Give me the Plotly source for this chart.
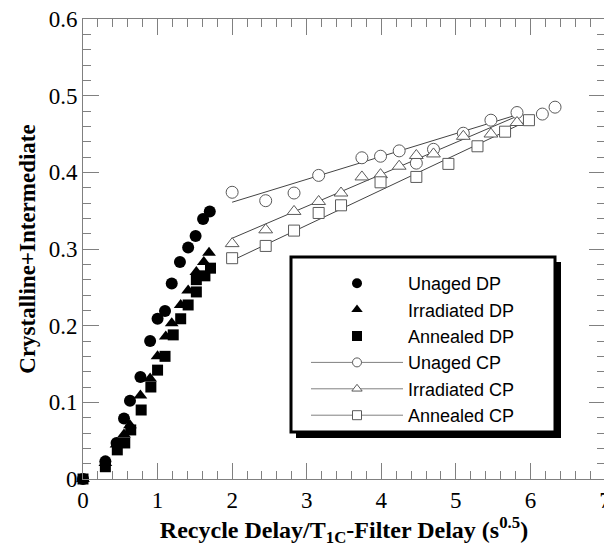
import plotly.graph_objects as go

# ---- data ----
unaged_dp_x = [0.0, 0.30, 0.45, 0.55, 0.63, 0.77, 0.90, 1.00, 1.10, 1.19, 1.30, 1.41, 1.51, 1.61, 1.70]
unaged_dp_y = [0.0, 0.023, 0.047, 0.079, 0.102, 0.133, 0.180, 0.209, 0.219, 0.255, 0.283, 0.302, 0.317, 0.339, 0.349]

irr_dp_x = [0.0, 0.30, 0.45, 0.55, 0.63, 0.77, 0.90, 1.00, 1.11, 1.19, 1.31, 1.41, 1.52, 1.62, 1.69]
irr_dp_y = [0.0, 0.021, 0.045, 0.058, 0.070, 0.109, 0.131, 0.160, 0.186, 0.203, 0.227, 0.246, 0.270, 0.283, 0.295]

ann_dp_x = [0.0, 0.30, 0.46, 0.56, 0.64, 0.78, 0.91, 1.00, 1.10, 1.21, 1.31, 1.41, 1.52, 1.52, 1.635, 1.71]
ann_dp_y = [0.0, 0.016, 0.038, 0.047, 0.064, 0.090, 0.120, 0.142, 0.160, 0.188, 0.209, 0.227, 0.244, 0.260, 0.265, 0.275]

unaged_cp_x = [2.00, 2.45, 2.83, 3.16, 3.74, 3.99, 4.24, 4.47, 4.70, 5.10, 5.47, 5.82, 6.16, 6.33]
unaged_cp_y = [0.374, 0.363, 0.373, 0.396, 0.419, 0.421, 0.428, 0.412, 0.430, 0.451, 0.468, 0.478, 0.476, 0.485]

irr_cp_x = [2.00, 2.45, 2.83, 3.16, 3.46, 3.74, 3.99, 4.24, 4.47, 4.70, 5.10, 5.47, 5.82]
irr_cp_y = [0.307, 0.325, 0.349, 0.362, 0.373, 0.394, 0.397, 0.408, 0.422, 0.424, 0.447, 0.450, 0.465]

ann_cp_x = [2.00, 2.45, 2.83, 3.16, 3.46, 3.99, 4.47, 4.90, 5.29, 5.66, 5.98]
ann_cp_y = [0.288, 0.304, 0.324, 0.347, 0.357, 0.387, 0.394, 0.411, 0.434, 0.453, 0.468]

# linear fit lines (end points)
unaged_fit_x = [2.00, 5.82]
unaged_fit_y = [0.361, 0.475]
irr_fit_x = [2.00, 5.84]
irr_fit_y = [0.314, 0.474]
ann_fit_x = [2.00, 5.98]
ann_fit_y = [0.285, 0.468]

x_ticks = [0, 1, 2, 3, 4, 5, 6, 7]
y_ticks = [0, 0.1, 0.2, 0.3, 0.4, 0.5, 0.6]

LINE = "#444444"
EDGE = "#5a5a5a"
AXC = "#808080"

fig = go.Figure()

# fit lines
for fx, fy in [(unaged_fit_x, unaged_fit_y), (irr_fit_x, irr_fit_y), (ann_fit_x, ann_fit_y)]:
    fig.add_trace(go.Scatter(x=fx, y=fy, mode="lines", line=dict(color=LINE, width=1),
                             showlegend=False, hoverinfo="skip"))

# CP open markers
for cx, cy, sym, sz in [(unaged_cp_x, unaged_cp_y, "circle", 12),
                        (irr_cp_x, irr_cp_y, "triangle-up", 12),
                        (ann_cp_x, ann_cp_y, "square", 11)]:
    fig.add_trace(go.Scatter(x=cx, y=cy, mode="markers",
                             marker=dict(symbol=sym, size=sz, color="white",
                                         line=dict(color=EDGE, width=1)),
                             showlegend=False))

# DP filled markers
for dx, dy, sym, sz in [(unaged_dp_x, unaged_dp_y, "circle", 12),
                        (irr_dp_x, irr_dp_y, "triangle-up", 12),
                        (ann_dp_x, ann_dp_y, "square", 11)]:
    fig.add_trace(go.Scatter(x=dx, y=dy, mode="markers", cliponaxis=False,
                             marker=dict(symbol=sym, size=sz, color="black",
                                         line=dict(color="black", width=0)),
                             showlegend=False))

# legend entries
legend_names = ["Unaged DP", "Irradiated DP", "Annealed DP", "Unaged CP", "Irradiated CP", "Annealed CP"]
legend_syms = ["circle", "triangle-up", "square", "circle", "triangle-up", "square"]
for i, (nm, sym) in enumerate(zip(legend_names, legend_syms)):
    if i < 3:
        fig.add_trace(go.Scatter(x=[None], y=[None], mode="markers", name=nm,
                                 marker=dict(symbol=sym, size=10, color="black")))
    else:
        fig.add_trace(go.Scatter(x=[None], y=[None], mode="lines+markers", name=nm,
                                 line=dict(color=AXC, width=1),
                                 marker=dict(symbol=sym, size=9, color="white",
                                             line=dict(color=EDGE, width=1))))

# plot area in window pixels: x 83..605, y 19..479 (page has an 8px body margin)
def px(x):
    return (x - 83) / 522.0

def py(y):
    return (479 - y) / 460.0

shapes = [
    # shadow
    dict(type="rect", xref="paper", yref="paper", x0=px(296), x1=px(561), y0=py(438), y1=py(262),
         fillcolor="black", line=dict(width=0), layer="above"),
    # box
    dict(type="rect", xref="paper", yref="paper", x0=px(291), x1=px(555), y0=py(432), y1=py(257),
         fillcolor="white", line=dict(color="black", width=3), layer="above"),
]

axis_common = dict(showline=True, linecolor=AXC, linewidth=1, mirror="ticks",
                   ticks="inside", tickcolor=AXC, tickwidth=1, ticklen=16,
                   showgrid=False, zeroline=False, automargin=False,
                   ticklabeloverflow="allow",
                   tickfont=dict(family="Liberation Serif", size=23, color="black"))

fig.update_layout(
    width=604, height=542,
    margin=dict(l=75, r=7, t=11, b=71),
    paper_bgcolor="white", plot_bgcolor="white",
    shapes=shapes,
    showlegend=True,
    legend=dict(x=px(306), y=py(265), xanchor="left", yanchor="top",
                bgcolor="rgba(0,0,0,0)", borderwidth=0,
                font=dict(family="Liberation Sans", size=18, color="black"),
                itemwidth=92, tracegroupgap=0),
    xaxis=dict(range=[0, 7], tickvals=x_ticks,
               minor=dict(dtick=0.2, ticks="inside", ticklen=8, tickcolor=AXC, tickwidth=1),
               title=dict(text="<b>Recycle Delay/T<sub>1C</sub>-Filter Delay (s<sup>0.5</sup>)</b>",
                          font=dict(family="Liberation Serif", size=24, color="black"),
                          standoff=6),
               **axis_common),
    yaxis=dict(range=[0, 0.6], tickvals=y_ticks,
               minor=dict(dtick=0.02, ticks="inside", ticklen=8, tickcolor=AXC, tickwidth=1),
               title=dict(text="<b>Crystalline+Intermediate</b>",
                          font=dict(family="Liberation Serif", size=23, color="black"),
                          standoff=6),
               **axis_common),
)

fig.write_html("out.html")
